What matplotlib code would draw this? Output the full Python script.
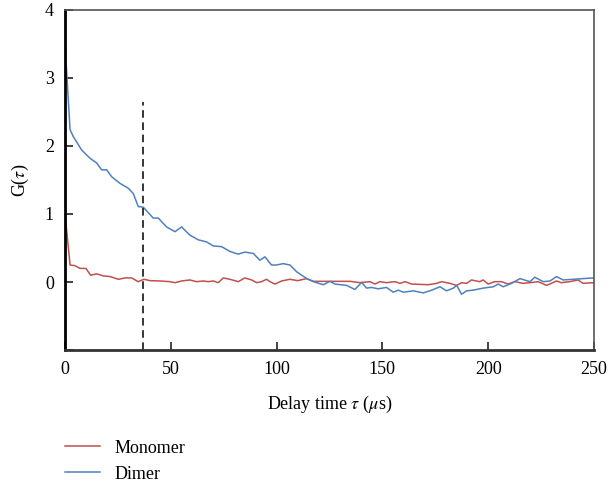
import matplotlib
matplotlib.use("Agg")
import matplotlib.pyplot as plt
from matplotlib.lines import Line2D

plt.rcParams['font.family'] = ['Liberation Serif', 'DejaVu Serif']
plt.rcParams['mathtext.fontset'] = 'stix'

dimer_t = [0, 2.4, 3.9, 7.9, 11.8, 15, 17.3, 19.7, 22, 26, 29.9, 32.3, 34.6, 37, 41.7, 44.1,
           48, 52, 55.1, 59, 63, 66.9, 70.1, 74, 77.9, 81.8, 85, 89, 92.1, 94.5, 97.6, 100,
           103.1, 106.3, 109.5, 114.2, 117.4, 122.1, 125.2, 127.6, 133.1, 137, 140.2, 142.5,
           144.9, 148, 152, 155.1, 157.5, 159.9, 164.6, 169.3, 173.3, 177.2, 180.3, 183.5,
           185.1, 187.4, 189.8, 192.9, 197.6, 202.4, 204.7, 207.1, 211, 215, 219.7, 222, 226,
           229.2, 232.3, 235.4, 240.2, 249.6]
dimer_g = [3.51, 2.24, 2.14, 1.94, 1.82, 1.75, 1.65, 1.65, 1.55, 1.45, 1.38, 1.30, 1.11, 1.10,
           0.94, 0.94, 0.81, 0.74, 0.81, 0.69, 0.62, 0.59, 0.53, 0.52, 0.45, 0.41, 0.44, 0.42,
           0.32, 0.37, 0.25, 0.25, 0.27, 0.25, 0.15, 0.05, 0.005, -0.04, 0.01, -0.03, -0.05,
           -0.11, -0.005, -0.09, -0.08, -0.10, -0.08, -0.15, -0.12, -0.15, -0.13, -0.16, -0.12,
           -0.07, -0.13, -0.09, -0.05, -0.18, -0.13, -0.12, -0.09, -0.07, -0.03, -0.07, -0.02,
           0.05, 0.005, 0.07, 0.005, 0.015, 0.08, 0.03, 0.04, 0.06]

mono_t = [0, 2.4, 4.7, 7.1, 9.9, 12.1, 15, 18.1, 21.3, 25.2, 28.4, 31.5, 34.6, 37.3, 40.2,
          44.9, 49.6, 52, 55.1, 59, 62.2, 65.4, 67.7, 70.1, 72.4, 74.8, 77.9, 81.9, 85, 88.2,
          90.6, 92.9, 95.3, 96.9, 99.2, 102.4, 106.3, 110, 114.2, 117.4, 125.2, 134.7, 139.4,
          144.1, 146.5, 148.8, 152, 155.9, 158.3, 160.7, 163.8, 167.8, 171.7, 175.6, 178,
          181.9, 185.1, 187.4, 189.8, 192.1, 196, 197.6, 200, 203.1, 206.3, 209.4, 212.6,
          216.5, 219.7, 223.6, 227.6, 232.3, 234.6, 238.5, 242.5, 244.8, 249.6]
mono_g = [1.01, 0.25, 0.24, 0.20, 0.20, 0.10, 0.12, 0.09, 0.08, 0.04, 0.06, 0.06, 0.005, 0.04,
          0.02, 0.015, 0.005, -0.01, 0.015, 0.03, 0.005, 0.015, 0.005, 0.015, -0.01, 0.06, 0.04,
          0.005, 0.06, 0.03, -0.01, 0.005, 0.04, 0.005, -0.03, 0.015, 0.04, 0.02, 0.05, 0.01,
          0.01, 0.01, -0.01, 0.005, -0.03, 0.005, -0.01, 0.005, -0.02, 0.005, -0.03, -0.035,
          -0.04, -0.02, 0.005, -0.02, -0.05, -0.01, -0.02, 0.03, 0.005, 0.03, -0.03, 0.005,
          0.005, -0.03, 0.005, -0.02, -0.01, 0.005, -0.05, 0.015, -0.01, 0.005, 0.03, -0.02,
          -0.01]

vline_t = 37
vline_top = 2.65
x_ticks = [0, 50, 100, 150, 200, 250]
y_ticks = [-1, 0, 1, 2, 3, 4]
y_labels = ['', '0', '1', '2', '3', '4']

red = '#c0504d'
blue = '#4f81bd'

fig = plt.figure(figsize=(6.09, 4.87), dpi=100)
ax = fig.add_axes([0.1067, 0.2813, 0.8687, 0.6982])

ax.plot(mono_t, mono_g, color=red, lw=1.1)
ax.plot(dimer_t, dimer_g, color=blue, lw=1.1)
ax.plot([vline_t, vline_t], [-1, vline_top], color='black', lw=1.1, ls=(0, (5, 3)))

ax.set_xlim(0, 250)
ax.set_ylim(-1, 4)
ax.set_xticks(x_ticks)
ax.set_yticks(y_ticks)
ax.set_yticklabels(y_labels)
ax.tick_params(direction='in', length=6, width=1.2, labelsize=13, color='#222222', pad=8)

ax.spines['left'].set_linewidth(2)
ax.spines['left'].set_color('black')
ax.spines['bottom'].set_linewidth(2)
ax.spines['bottom'].set_color('#333333')
ax.spines['top'].set_linewidth(1.2)
ax.spines['top'].set_color('#555555')
ax.spines['right'].set_linewidth(1.2)
ax.spines['right'].set_color('#555555')

ax.set_xlabel(r'Delay time $\tau$ ($\mu$s)', fontsize=13, labelpad=11)
ax.set_ylabel(r'G($\tau$)', fontsize=13, labelpad=10)

handles = [Line2D([], [], color=red, lw=1.1), Line2D([], [], color=blue, lw=1.1)]
fig.legend(handles, ['Monomer', 'Dimer'], loc='upper left', bbox_to_anchor=(0.106, 0.097),
           frameon=False, fontsize=13, handlelength=1.95, handletextpad=0.8, labelspacing=0.5,
           borderpad=0, borderaxespad=0)

fig.savefig('out.png', dpi=100)
